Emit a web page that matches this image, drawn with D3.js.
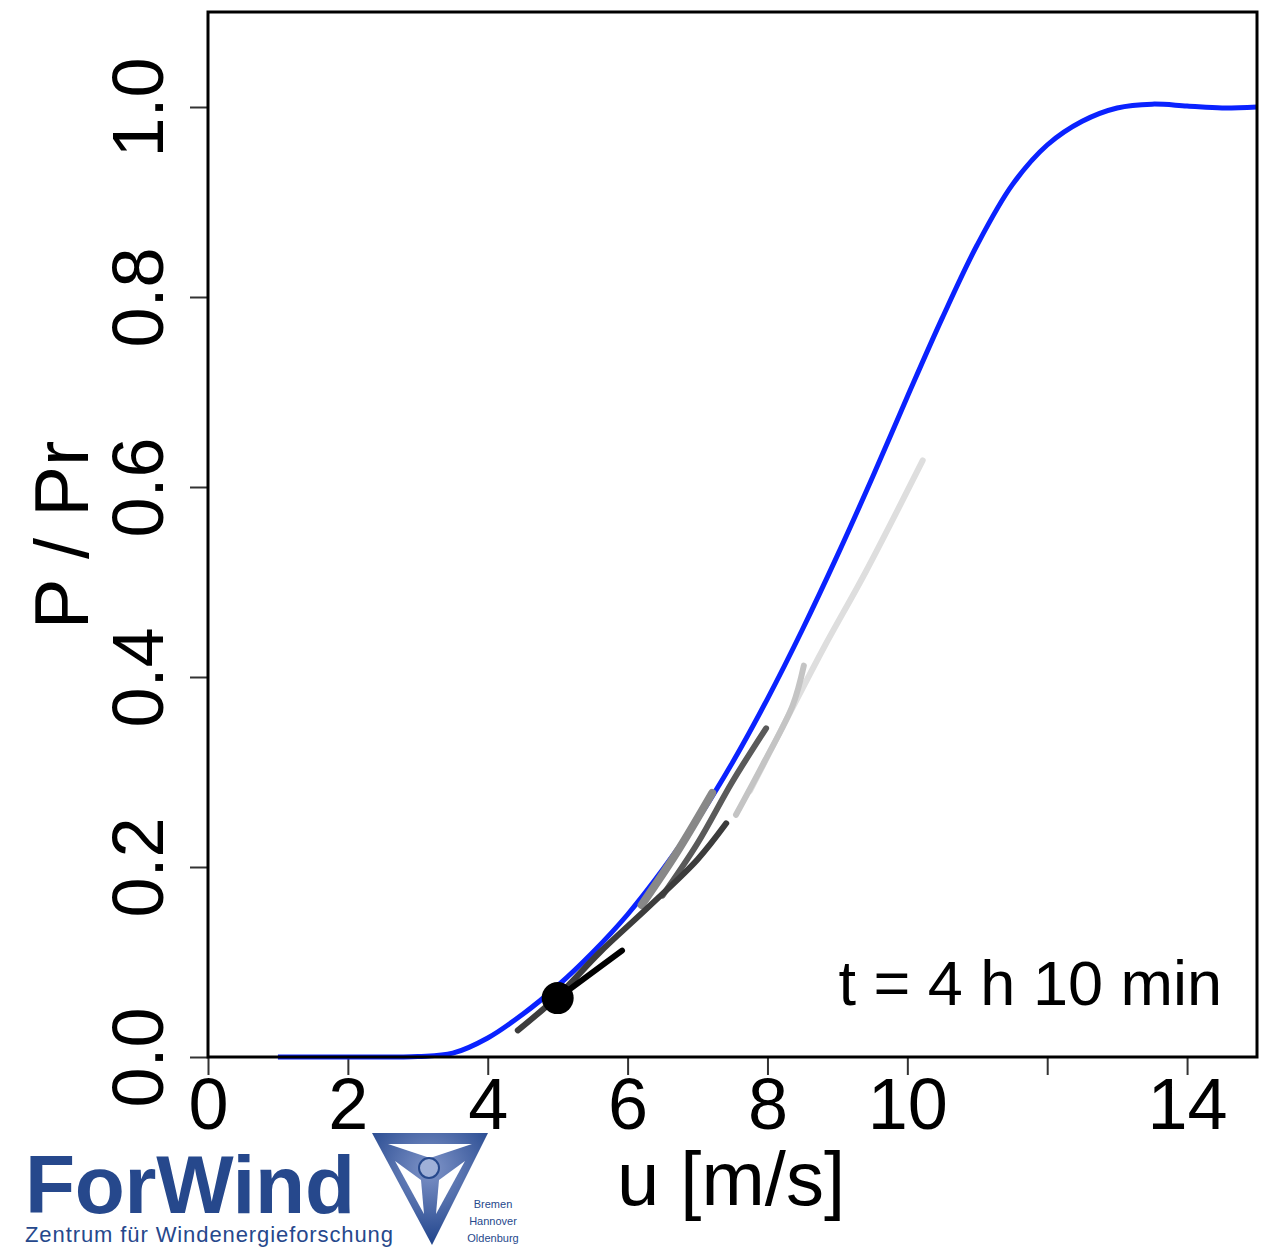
<!DOCTYPE html>
<html lang="en">
<head>
	<meta charset="UTF-8">
	<title>Power curve</title>
	<script src="https://cdn.jsdelivr.net/npm/d3@7"></script>
	<style>
		html, body{
			margin: 0;
			padding: 0;
			background: #fff;
		}
		svg{
			display: block;
			font-family: "Liberation Sans", Arial, sans-serif;
		}
	</style>
</head>
<body>
	<div class="chart"></div>
	<script>
		// power curve (blue)
		var curveU = [1, 2, 3, 3.5, 4, 4.5, 5, 5.5, 6, 6.5, 7, 7.5, 8, 8.5, 9, 9.5, 10, 10.5, 11, 11.5, 12, 12.5, 13, 13.5, 14, 14.5, 15];
		var curveP = [0, 0, 0.0005, 0.004, 0.02, 0.045, 0.075, 0.11, 0.15, 0.197, 0.25, 0.31, 0.377, 0.45, 0.528, 0.61, 0.695, 0.778, 0.855, 0.918, 0.96, 0.985, 0.999, 1.003, 1.001, 0.999, 1.0];

		// history traces, oldest (lightest) first
		var traceU = [
			[7.75, 8.2, 8.8, 9.4, 10.22],
			[7.55, 7.95, 8.36, 8.52],
			[6.2, 6.7, 7.21],
			[6.5, 7.0, 7.5, 7.98],
			[4.43, 5.0, 5.6, 6.3, 7.0, 7.41],
			[5.0, 5.92]
		];
		var traceP = [
			[0.28, 0.345, 0.43, 0.51, 0.628],
			[0.255, 0.31, 0.37, 0.412],
			[0.16, 0.215, 0.278],
			[0.17, 0.225, 0.29, 0.346],
			[0.028, 0.064, 0.11, 0.158, 0.208, 0.246],
			[0.062, 0.112]
		];
		var traceColors = ['#dedede', '#c4c4c4', '#888888', '#5a5a5a', '#3c3c3c', '#000000'];
		var traceWidths = [6, 6, 8, 6, 6, 6];

		// current state
		var pointU = 5.0;
		var pointP = 0.062;

		var xTicks = [0, 2, 4, 6, 8, 10, 12, 14];
		var xTickLabels = ['0', '2', '4', '6', '8', '10', '', '14'];
		var yTicks = [0, 0.2, 0.4, 0.6, 0.8, 1.0];
		var yTickLabels = ['0.0', '0.2', '0.4', '0.6', '0.8', '1.0'];

		var width = 1276;
		var height = 1249;
		var box = { left: 208, right: 1257, top: 12, bottom: 1057 };

		var xScale = d3.scaleLinear()
						.domain([0, 15])
						.range([box.left, box.right]);
		var yScale = d3.scaleLinear()
						.domain([0, 1.1])
						.range([box.bottom, box.top]);

		var svg = d3.select('.chart')
					.append('svg')
					.attr('width', width)
					.attr('height', height);

		// x axis
		var xAxis = d3.axisBottom(xScale)
						.tickValues(xTicks)
						.tickSize(18)
						.tickFormat(function(d, i){ return xTickLabels[i]; });
		var gx = svg.append('g')
			.attr('transform', 'translate(0,' + box.bottom + ')')
			.call(xAxis);
		gx.select('.domain').remove();
		gx.selectAll('line').attr('stroke', '#333').attr('stroke-width', 2);
		gx.selectAll('text')
			.attr('y', 0)
			.attr('dy', 72)
			.attr('fill', '#000')
			.style('font-size', '72px')
			.style('font-family', '"Liberation Sans", Arial, sans-serif');

		// y axis
		var yAxis = d3.axisLeft(yScale)
						.tickValues(yTicks)
						.tickSize(18)
						.tickFormat(function(d, i){ return yTickLabels[i]; });
		var gy = svg.append('g')
			.attr('transform', 'translate(' + box.left + ',0)')
			.call(yAxis);
		gy.select('.domain').remove();
		gy.selectAll('line').attr('stroke', '#333').attr('stroke-width', 2);
		gy.selectAll('text')
			.attr('transform', 'rotate(-90)')
			.attr('x', 0)
			.attr('y', -45)
			.attr('dy', 0)
			.attr('text-anchor', 'middle')
			.attr('fill', '#000')
			.style('font-size', '72px')
			.style('font-family', '"Liberation Sans", Arial, sans-serif');

		var smoothLine = d3.line()
						.x(function(d){ return xScale(d[0]); })
						.y(function(d){ return yScale(d[1]); })
						.curve(d3.curveCatmullRom.alpha(0.5));

		// blue power curve
		var curveData = curveU.map(function(u, i){ return [u, curveP[i]]; });
		svg.append('path')
			.attr('d', smoothLine(curveData))
			.attr('fill', 'none')
			.attr('stroke', '#0a22ff')
			.attr('stroke-width', 5);

		// history traces
		svg.append('g')
			.selectAll('path')
			.data(traceU)
			.enter()
			.append('path')
			.attr('d', function(us, k){
				return smoothLine(us.map(function(u, i){ return [u, traceP[k][i]]; }));
			})
			.attr('fill', 'none')
			.attr('stroke', function(d, k){ return traceColors[k]; })
			.attr('stroke-width', function(d, k){ return traceWidths[k]; })
			.attr('stroke-linecap', 'round');

		svg.append('circle')
			.attr('cx', xScale(pointU))
			.attr('cy', yScale(pointP))
			.attr('r', 16)
			.attr('fill', '#000');

		// plot box
		svg.append('rect')
			.attr('x', box.left)
			.attr('y', box.top)
			.attr('width', box.right - box.left)
			.attr('height', box.bottom - box.top)
			.attr('fill', 'none')
			.attr('stroke', '#000')
			.attr('stroke-width', 3);

		// titles
		svg.append('text')
			.attr('x', 731)
			.attr('y', 1205)
			.attr('text-anchor', 'middle')
			.style('font-size', '76px')
			.text('u [m/s]');
		svg.append('text')
			.attr('transform', 'translate(88,535) rotate(-90)')
			.attr('text-anchor', 'middle')
			.style('font-size', '76px')
			.text('P / Pr');
		svg.append('text')
			.attr('x', 1222)
			.attr('y', 1005)
			.attr('text-anchor', 'end')
			.style('font-size', '63px')
			.text('t = 4 h 10 min');

		// logo
		var logoBlue = '#26488c';
		var defs = svg.append('defs');
		var grad = defs.append('radialGradient')
			.attr('id', 'logoGrad')
			.attr('cx', '50%').attr('cy', '32%').attr('r', '65%');
		grad.append('stop').attr('offset', '0%').attr('stop-color', '#7f94c8');
		grad.append('stop').attr('offset', '100%').attr('stop-color', '#24478e');

		var logo = svg.append('g');
		logo.append('text')
			.attr('x', 25)
			.attr('y', 1213)
			.attr('fill', logoBlue)
			.style('font-size', '82px')
			.style('font-weight', 'bold')
			.attr('textLength', 330)
			.text('ForWind');
		logo.append('text')
			.attr('x', 25)
			.attr('y', 1242)
			.attr('fill', logoBlue)
			.style('font-size', '22px')
			.attr('textLength', 368)
			.text('Zentrum für Windenergieforschung');

		logo.append('path')
			.attr('d', 'M372,1133 L488,1133 L432,1245 Z')
			.attr('fill', 'url(#logoGrad)');
		// white gaps between the blades
		logo.append('path')
			.attr('d', 'M388,1144 L472,1144 L430,1158 Z')
			.attr('fill', '#fff');
		logo.append('path')
			.attr('d', 'M395,1161 L421,1180 L424,1214 Z')
			.attr('fill', '#fff');
		logo.append('path')
			.attr('d', 'M465,1161 L439,1180 L436,1214 Z')
			.attr('fill', '#fff');
		logo.append('circle')
			.attr('cx', 429)
			.attr('cy', 1168)
			.attr('r', 10)
			.attr('fill', '#9fb0d8')
			.attr('stroke', logoBlue)
			.attr('stroke-width', 2);

		var uniNames = ['Bremen', 'Hannover', 'Oldenburg'];
		logo.append('g')
			.selectAll('text')
			.data(uniNames)
			.enter()
			.append('text')
			.attr('x', 493)
			.attr('y', function(d, i){ return 1208 + i * 17; })
			.attr('text-anchor', 'middle')
			.attr('fill', logoBlue)
			.style('font-size', '11px')
			.text(function(d){ return d; });
	</script>
</body>
</html>
